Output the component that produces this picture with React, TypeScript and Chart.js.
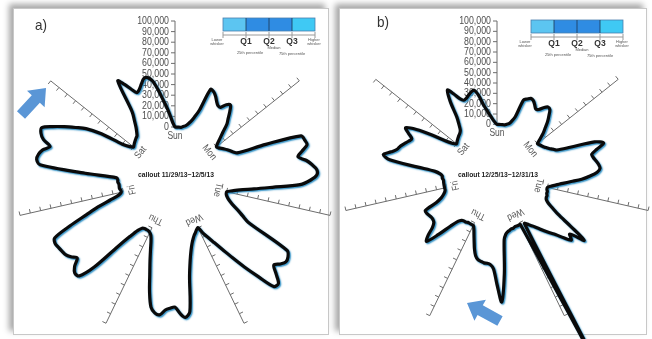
import React, { useEffect, useRef } from "react";
import { Chart, registerables } from "chart.js";

Chart.register(...registerables);

const W = 652;
const H = 339;
const FONT = '"Liberation Sans", Arial, sans-serif';

const DAYS = ["Sun", "Mon", "Tue", "Wed", "Thu", "Fri", "Sat"];
const HOURS_PER_DAY = 24;
const TICKS = [0, 10000, 20000, 30000, 40000, 50000, 60000, 70000, 80000, 90000, 100000];
const R_MIN = -50000; // inner hole of the radial axis
const R_MAX = 100000;
// which side of each day spoke the tick marks sit on
const TICK_SIDE = [1, 1, 1, 1, -1, -1, 1];

// ---- panel a: 11/29/13 - 12/5/13, hourly values in thousands ----
const sunA = [0, 0, 0, 0, 1, 2, 4, 7, 12, 20, 42, 41, 38, 34, 31, 31, 36, 38, 33, 27, 22, 14, 8, 3];
const monA = [0, 1, 3, 5, 7, 9, 11, 14, 42, 76, 78, 79, 73, 68, 75, 80, 84, 84, 78, 68, 42, 25, 12, 5];
const tueA = [0, 0, 1, 3, 6, 10, 16, 22, 30, 75, 79, 80, 77, 73, 80, 88, 87, 70, 55, 41, 29, 20, 13, 7];
const wedA = [0, 1, 3, 5, 8, 12, 18, 27, 42, 75, 80, 76, 70, 71, 73, 78, 77, 72, 58, 42, 30, 20, 12, 7];
const thuA = [5, 4, 4, 4, 5, 9, 18, 33, 62, 78, 79, 75, 68, 72, 75, 76, 77, 78, 76, 58, 40, 27, 14, 5];
const friA = [2, 2, 3, 3, 3, 4, 4, 5, 35, 78, 82, 81, 78, 72, 80, 84, 85, 76, 66, 56, 47, 32, 10, 3];
const satA = [0, 1, 2, 3, 4, 5, 8, 12, 18, 26, 58, 52, 45, 40, 42, 46, 50, 50, 46, 37, 27, 19, 11, 4];

// ---- panel b: 12/25/13 - 12/31/13, hourly values in thousands ----
const sunB = [0, 0, 0, 0, 0, 1, 2, 5, 10, 28, 30, 32, 31, 28, 25, 26, 30, 33, 32, 27, 22, 16, 11, 5];
const monB = [0, 1, 2, 3, 5, 7, 10, 13, 26, 50, 58, 50, 44, 45, 47, 49, 50, 47, 40, 32, 22, 14, 8, 3];
const tueB = [0, 0, 1, 1, 2, 2, 3, 6, 12, 20, 36, 55, 40, 45, 38, 30, 25, 20, 15, 11, 8, 5, 3, 150];
const wedB = [2, 2, 2, 2, 3, 3, 4, 5, 7, 12, 45, 72, 55, 40, 36, 35, 35, 34, 33, 30, 24, 17, 11, 6];
const thuB = [3, 3, 3, 3, 4, 4, 5, 8, 16, 30, 43, 38, 30, 26, 25, 25, 26, 27, 27, 14, 8, 5, 3, 2];
const friB = [2, 2, 2, 2, 2, 3, 3, 5, 10, 27, 55, 62, 55, 50, 48, 45, 42, 40, 45, 50, 40, 25, 10, 3];
const satB = [0, 1, 2, 3, 4, 5, 7, 12, 19, 35, 46, 40, 33, 30, 31, 33, 35, 36, 30, 20, 14, 9, 5, 2];

// ---- legend ----
const LEGEND_COLORS = ["#5cc5f1", "#2f8ce3", "#2f8ce3", "#3fc9f4"];
const LEGEND_Q = ["Q1", "Q2", "Q3"];
const LEGEND_ENDS = [["Lower", "whisker"], ["Higher", "whisker"]];
const LEGEND_SUB = ["Median", "25th percentile", "75th percentile"];

const toSeries = (days: number[][]) => days.flat().map((v) => v * 1000);

interface PanelSpec {
  id: string;
  tag: string;
  callout: string;
  calloutDy: number;
  series: number[];
  pad: { left: number; right: number; top: number; bottom: number };
  legend: { x: number; y: number };
  tagPos: { x: number; y: number };
  arrow: { tx: number; ty: number; bx: number; by: number };
}

const PANELS: PanelSpec[] = [
  {
    id: "a",
    tag: "a)",
    callout: "callout 11/29/13~12/5/13",
    calloutDy: -5,
    series: toSeries([sunA, monA, tueA, wedA, thuA, friA, satA]),
    pad: { left: 16, right: 318, top: 21, bottom: 0 },
    legend: { x: 223, y: 18 },
    tagPos: { x: 41, y: 26 },
    arrow: { tx: 46, ty: 88, bx: 21, by: 115 },
  },
  {
    id: "b",
    tag: "b)",
    callout: "callout 12/25/13~12/31/13",
    calloutDy: -1,
    series: toSeries([sunB, monB, tueB, wedB, thuB, friB, satB]),
    pad: { left: 342, right: 0, top: 21, bottom: 8 },
    legend: { x: 531, y: 20 },
    tagPos: { x: 383, y: 23 },
    arrow: { tx: 467, ty: 303, bx: 500, by: 321 },
  },
];

function txt(
  ctx: CanvasRenderingContext2D,
  s: string,
  x: number,
  y: number,
  font: string,
  color: string,
  align: CanvasTextAlign,
  sx = 0.85
) {
  ctx.save();
  ctx.translate(x, y);
  ctx.scale(sx, 1);
  ctx.font = font;
  ctx.fillStyle = color;
  ctx.textAlign = align;
  ctx.textBaseline = "middle";
  ctx.fillText(s, 0, 0);
  ctx.restore();
}

function drawArrow(ctx: CanvasRenderingContext2D, a: PanelSpec["arrow"]) {
  const ang = Math.atan2(a.ty - a.by, a.tx - a.bx);
  const len = Math.hypot(a.tx - a.bx, a.ty - a.by);
  const sw = 11, hw = 24, hl = 15;
  ctx.save();
  ctx.translate(a.bx, a.by);
  ctx.rotate(ang);
  ctx.beginPath();
  ctx.moveTo(0, -sw / 2);
  ctx.lineTo(len - hl, -sw / 2);
  ctx.lineTo(len - hl, -hw / 2);
  ctx.lineTo(len, 0);
  ctx.lineTo(len - hl, hw / 2);
  ctx.lineTo(len - hl, sw / 2);
  ctx.lineTo(0, sw / 2);
  ctx.closePath();
  ctx.fillStyle = "#5a96d6";
  ctx.fill();
  ctx.restore();
}

function drawLegend(ctx: CanvasRenderingContext2D, x: number, y: number) {
  const w = 92, h = 13, seg = w / 4;
  LEGEND_COLORS.forEach((c, i) => {
    ctx.fillStyle = c;
    ctx.fillRect(x + i * seg, y, seg, h);
  });
  ctx.strokeStyle = "#4a7fae";
  ctx.lineWidth = 0.8;
  ctx.strokeRect(x, y, w, h);
  ctx.strokeStyle = "#1c3550";
  for (let i = 1; i < 4; i++) {
    ctx.beginPath();
    ctx.moveTo(x + i * seg, y);
    ctx.lineTo(x + i * seg, y + h);
    ctx.stroke();
  }
  const ly = y + h + 4;
  ctx.strokeStyle = "#9a9a9a";
  ctx.lineWidth = 1;
  ctx.beginPath();
  ctx.moveTo(x, ly);
  ctx.lineTo(x + w, ly);
  for (let i = 0; i <= 4; i++) {
    ctx.moveTo(x + i * seg, ly - 3);
    ctx.lineTo(x + i * seg, ly + 3);
  }
  ctx.stroke();
  LEGEND_Q.forEach((q, i) => txt(ctx, q, x + (i + 1) * seg, ly + 7, `bold 9px ${FONT}`, "#333", "center", 0.95));
  txt(ctx, LEGEND_ENDS[0][0], x - 6, ly + 5, `4px ${FONT}`, "#555", "center", 1);
  txt(ctx, LEGEND_ENDS[0][1], x - 6, ly + 9, `4px ${FONT}`, "#555", "center", 1);
  txt(ctx, LEGEND_ENDS[1][0], x + w - 1, ly + 5, `4px ${FONT}`, "#555", "center", 1);
  txt(ctx, LEGEND_ENDS[1][1], x + w - 1, ly + 9, `4px ${FONT}`, "#555", "center", 1);
  txt(ctx, LEGEND_SUB[0], x + 2 * seg + 5, ly + 13, `4px ${FONT}`, "#555", "center", 1);
  txt(ctx, LEGEND_SUB[1], x + seg + 4, ly + 18, `4px ${FONT}`, "#555", "center", 1);
  txt(ctx, LEGEND_SUB[2], x + 3 * seg, ly + 19, `4px ${FONT}`, "#555", "center", 1);
}

function decorPlugin(p: PanelSpec) {
  return {
    id: "decor" + p.id,
    beforeDatasetsDraw(chart: any) {
      const ctx: CanvasRenderingContext2D = chart.ctx;
      const s = chart.scales.r;
      const cx = s.xCenter, cy = s.yCenter;
      const r0 = s.getDistanceFromCenterForValue(0);
      ctx.save();
      DAYS.forEach((d, di) => {
        const idx = di * HOURS_PER_DAY;
        const a = s.getPointPositionForValue(idx, TICKS[0]);
        const b = s.getPointPositionForValue(idx, TICKS[TICKS.length - 1]);
        const len = Math.hypot(b.x - a.x, b.y - a.y);
        const ux = (b.x - a.x) / len, uy = (b.y - a.y) / len;
        const nx = uy * TICK_SIDE[di], ny = -ux * TICK_SIDE[di];
        ctx.strokeStyle = "#6d6d6d";
        ctx.lineWidth = 1;
        ctx.beginPath();
        ctx.moveTo(a.x, a.y);
        ctx.lineTo(b.x, b.y);
        TICKS.forEach((t) => {
          const q = s.getPointPositionForValue(idx, t);
          ctx.moveTo(q.x, q.y);
          ctx.lineTo(q.x + nx * 4, q.y + ny * 4);
        });
        ctx.stroke();
        if (di === 0) {
          TICKS.forEach((t) => {
            const q = s.getPointPositionForValue(idx, t);
            txt(ctx, t.toLocaleString("en-US"), q.x - 6, q.y, `11px ${FONT}`, "#4d4d4d", "right", 0.8);
          });
        }
        ctx.save();
        ctx.translate(cx, cy);
        ctx.rotate(s.getIndexAngle(idx));
        txt(ctx, d, 0, -(r0 - 9), `10px ${FONT}`, "#555", "center", 0.85);
        ctx.restore();
      });
      txt(ctx, p.callout, cx + 1, cy + p.calloutDy, `bold 7.5px ${FONT}`, "#222", "center", 0.9);
      txt(ctx, p.tag, p.tagPos.x, p.tagPos.y, `15px ${FONT}`, "#333", "center", 0.9);
      drawLegend(ctx, p.legend.x, p.legend.y);
      drawArrow(ctx, p.arrow);
      ctx.restore();
      // blue band look under the black line
      ctx.save();
      ctx.shadowColor = "rgba(40,140,195,0.95)";
      ctx.shadowOffsetX = 1.2;
      ctx.shadowOffsetY = 1.2;
      ctx.shadowBlur = 1.5;
    },
    afterDatasetsDraw(chart: any) {
      chart.ctx.restore();
    },
  };
}

function makeConfig(p: PanelSpec): any {
  const labels = p.series.map((_, i) => `${DAYS[Math.floor(i / HOURS_PER_DAY)]} ${i % HOURS_PER_DAY}:00`);
  return {
    type: "radar",
    data: {
      labels,
      datasets: [
        {
          data: p.series,
          borderColor: "#0a0a0a",
          borderWidth: 3.2,
          pointRadius: 0,
          fill: false,
          tension: 0.3,
          clip: false,
          borderJoinStyle: "round",
          borderCapStyle: "round",
        },
      ],
    },
    options: {
      animation: false,
      responsive: false,
      maintainAspectRatio: false,
      devicePixelRatio: 1,
      layout: { padding: p.pad },
      plugins: { legend: { display: false }, tooltip: { enabled: false } },
      scales: {
        r: {
          min: R_MIN,
          max: R_MAX,
          startAngle: 0,
          ticks: { display: false },
          grid: { display: false },
          angleLines: { display: false },
          pointLabels: { display: false },
        },
      },
    },
    plugins: [decorPlugin(p)],
  };
}

function RadarPanel({ panel }: { panel: PanelSpec }) {
  const ref = useRef<HTMLCanvasElement>(null);
  useEffect(() => {
    const chart = new Chart(ref.current as HTMLCanvasElement, makeConfig(panel));
    return () => chart.destroy();
  }, [panel]);
  return (
    <canvas
      ref={ref}
      width={W}
      height={H}
      style={{ position: "absolute", left: 0, top: 0, width: W, height: H }}
    />
  );
}

export default function App() {
  const frame = (left: number, width: number): React.CSSProperties => ({
    position: "absolute",
    left,
    top: 8,
    width,
    height: 325,
    background: "#fff",
    border: "1px solid #c8c8c8",
    boxShadow: "-4px -4px 6px rgba(0,0,0,0.35)",
  });
  return (
    <div
      style={{
        position: "fixed",
        left: 0,
        top: 0,
        width: W,
        height: H,
        overflow: "hidden",
        background: "#fff",
      }}
    >
      <div style={frame(13, 314)} />
      <div style={frame(339, 306)} />
      {PANELS.map((p) => (
        <RadarPanel key={p.id} panel={p} />
      ))}
    </div>
  );
}
